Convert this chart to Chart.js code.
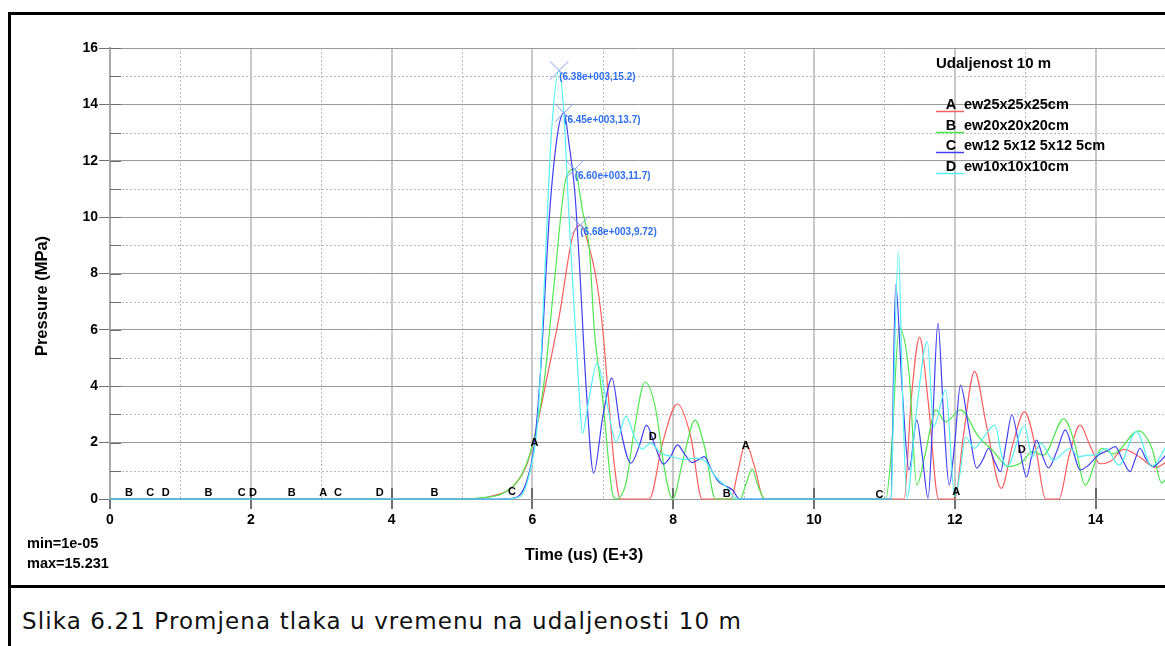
<!DOCTYPE html>
<html>
<head>
    <title>Promjena tlaka u vremenu - 10 m</title>
    <script src="https://cdn.jsdelivr.net/npm/chart.js"></script>
    <style>
        body { margin: 0; overflow: hidden; background: #fff; width: 1165px; height: 646px; }
        #chart { position: absolute; left: 0; top: 0; }
        .rule { position: absolute; background: #000; }
        #caption { position: absolute; left: 22px; top: 608px; font-family: "DejaVu Sans", sans-serif; font-size: 23px; letter-spacing: 1.1px; color: #111; white-space: nowrap; }
    </style>
</head>
<body>
    <canvas id="chart" width="1180" height="587"></canvas>
    <div class="rule" style="left:8px; top:12px; width:1200px; height:3px;"></div>
    <div class="rule" style="left:8px; top:12px; width:3px; height:640px;"></div>
    <div class="rule" style="left:8px; top:585px; width:1200px; height:3px;"></div>
    <div id="caption">Slika 6.21 Promjena tlaka u vremenu na udaljenosti 10 m</div>
    <script>
        // curve names and colours
        const seriesLetters = ['A', 'B', 'C', 'D'];
        const seriesNames = ['ew25x25x25cm', 'ew20x20x20cm', 'ew12 5x12 5x12 5cm', 'ew10x10x10cm'];
        const seriesColors = ['#ff5c5c', '#4fe64f', '#4040f2', '#55f2f2'];

        // A - ew25x25x25cm (time in us E+3, pressure MPa)
        const timeA = [0, 5.0, 5.39, 5.72, 5.91, 6.03, 6.19, 6.38, 6.57, 6.68, 6.81, 6.92, 7.0, 7.08, 7.16, 7.25, 7.66, 7.85, 8.06, 8.25, 8.41,
            8.82, 8.92, 9.03, 9.15, 9.29, 11.28, 11.38, 11.5, 11.62, 11.77, 12.0, 12.12, 12.28, 12.45, 12.66, 12.82, 12.99, 13.15,
            13.29, 13.48, 13.62, 13.78, 13.92, 14.06, 14.22, 14.4, 14.62, 14.85, 15.0];
        const pressA = [0, 0, 0.08, 0.44, 1.15, 2.2, 4.1, 6.47, 9.3, 9.72, 8.9, 7.6, 6.0, 3.6, 1.3, 0, 0, 2.0, 3.37, 2.2, 0,
            0, 1.0, 1.98, 1.2, 0, 0, 3.5, 5.74, 3.5, 0, 0, 2.2, 4.53, 2.6, 0.38, 1.9, 3.1, 1.8,
            0, 0, 1.5, 2.62, 1.9, 1.25, 1.35, 1.76, 1.5, 1.12, 1.3];

        // B - ew20x20x20cm
        const timeB = [0, 5.0, 5.3, 5.58, 5.86, 6.03, 6.17, 6.31, 6.48, 6.6, 6.71, 6.81, 6.88, 7.0, 7.13, 7.19, 7.33, 7.45, 7.6, 7.75,
            7.88, 7.99, 8.15, 8.31, 8.45, 8.6, 8.95, 9.03, 9.12, 9.2, 9.3, 11.02, 11.1, 11.21, 11.35, 11.46, 11.58, 11.73, 11.87,
            12.08, 12.34, 12.53, 12.77, 12.95, 13.1, 13.26, 13.55, 13.7, 13.85, 14.09, 14.25, 14.61, 14.8, 14.94, 15.0];
        const pressB = [0, 0, 0.05, 0.2, 0.92, 2.2, 4.22, 7.66, 11.4, 11.7, 10.25, 8.83, 6.0, 3.5, 0.3, 0, 0.57, 2.5, 4.15, 3.2,
            1.0, 0, 1.5, 2.8, 1.8, 0, 0, 0.5, 1.06, 0.5, 0, 0, 1.74, 6.07, 4.47, 0.5, 1.6, 3.16, 2.74,
            3.16, 2.2, 1.74, 1.15, 1.3, 1.68, 1.56, 2.84, 2.0, 0.5, 1.8, 1.6, 2.42, 1.8, 0.57, 0.7];

        // C - ew12 5x12 5x12 5cm
        const timeC = [0, 5.0, 5.5, 5.72, 5.91, 6.03, 6.12, 6.24, 6.36, 6.45, 6.52, 6.6, 6.67, 6.76, 6.87, 7.0, 7.13, 7.25, 7.4, 7.52,
            7.62, 7.74, 7.86, 7.96, 8.06, 8.16, 8.27, 8.36, 8.44, 8.55, 8.65, 8.75, 8.85, 8.94, 11.09, 11.16, 11.25, 11.35, 11.46,
            11.54, 11.62, 11.69, 11.76, 11.84, 11.92, 12.0, 12.08, 12.2, 12.31, 12.4, 12.48, 12.57, 12.65, 12.73, 12.81, 12.92,
            13.02, 13.09, 13.16, 13.25, 13.33, 13.45, 13.57, 13.68, 13.78, 13.9, 14.04, 14.16, 14.28, 14.38, 14.49, 14.56, 14.63,
            14.72, 14.82, 14.9, 15.0];
        const pressC = [0, 0, 0, 0.02, 0.57, 1.98, 4.69, 10.0, 13.0, 13.7, 12.6, 10.96, 8.24, 4.1, 0.92, 2.92, 4.29, 2.5, 1.27, 1.9,
            2.62, 1.9, 1.24, 1.5, 1.92, 1.6, 1.29, 1.4, 1.5, 1.0, 0.6, 0.46, 0.3, 0, 0, 7.6, 4.0, 1.03, 2.8,
            1.5, 0.03, 3.0, 6.24, 3.0, 0.5, 2.0, 4.04, 2.5, 1.1, 1.4, 1.8, 1.3, 0.97, 2.0, 2.98, 1.8,
            0.79, 1.5, 2.09, 1.5, 1.1, 1.7, 2.45, 1.7, 1.03, 1.2, 1.56, 1.7, 1.86, 1.4, 0.97, 1.4, 1.8,
            1.4, 1.15, 1.3, 1.56];

        // D - ew10x10x10cm
        const timeD = [0, 5.0, 5.6, 5.82, 5.98, 6.08, 6.17, 6.27, 6.38, 6.45, 6.52, 6.6, 6.67, 6.71, 6.8, 6.92, 7.05, 7.19, 7.33, 7.45,
            7.56, 7.68, 7.82, 7.99, 8.15, 8.32, 8.46, 8.6, 8.75, 8.9, 11.1, 11.13, 11.2, 11.26, 11.32, 11.45, 11.61, 11.7, 11.87,
            12.0, 12.08, 12.15, 12.28, 12.38, 12.57, 12.67, 12.74, 12.99, 13.1, 13.22, 13.4, 13.64, 13.76, 13.9, 14.0, 14.15,
            14.33, 14.58, 14.8, 15.0];
        const pressD = [0, 0, 0, 0.08, 1.15, 2.92, 7.66, 12.98, 15.2, 13.56, 10.0, 6.47, 3.51, 2.33, 3.5, 4.82, 3.5, 2.04, 2.94, 2.2,
            1.77, 1.98, 1.63, 1.5, 1.4, 1.45, 1.33, 0.8, 0.44, 0, 0, 3.63, 8.77, 3.5, 0.03, 3.0, 5.58, 2.57, 3.87,
            0.08, 1.0, 2.2, 1.8, 2.09, 2.62, 1.5, 1.15, 2.59, 1.5, 1.98, 1.38, 1.8, 1.5, 1.56, 1.56, 1.8,
            1.2, 2.39, 1.15, 1.86];

        // peak markers
        const peakTime = [6.38, 6.45, 6.60, 6.68];
        const peakPress = [15.2, 13.7, 11.7, 9.72];

        // curve id letters sitting on the curves
        const markText = ['B', 'C', 'D', 'B', 'C', 'D', 'B', 'A', 'C', 'D', 'B', 'C', 'A', 'D', 'B', 'A', 'C', 'A', 'D'];
        const markTime = [0.27, 0.57, 0.79, 1.40, 1.87, 2.03, 2.58, 3.03, 3.24, 3.83, 4.61, 5.71, 6.03, 7.71, 8.76, 9.03, 10.93, 12.02, 12.95];
        const markPress = [0.2, 0.2, 0.2, 0.2, 0.2, 0.2, 0.2, 0.2, 0.2, 0.2, 0.2, 0.24, 2.0, 2.19, 0.17, 1.88, 0.14, 0.26, 1.74];

        const minMaxText = ['min=1e-05', 'max=15.231'];

        const timeArrs = [timeA, timeB, timeC, timeD];
        const pressArrs = [pressA, pressB, pressC, pressD];

        const datasets = seriesLetters.map((s, i) => ({
            label: s + ' ' + seriesNames[i],
            data: timeArrs[i].map((t, k) => ({ x: t, y: pressArrs[i][k] })),
            showLine: true,
            borderColor: seriesColors[i],
            borderWidth: 1.2,
            pointRadius: 0,
            cubicInterpolationMode: 'monotone',
            clip: 4,
            order: 4 - i
        }));
        datasets.push({
            label: 'peaks',
            data: peakTime.map((t, k) => ({ x: t, y: peakPress[k] })),
            showLine: false,
            pointStyle: 'crossRot',
            pointRadius: 13,
            borderColor: '#7f9ff0',
            borderWidth: 1,
            order: 0
        });

        const FONT = '"Liberation Sans", Arial, sans-serif';

        const overlay = {
            id: 'overlay',
            beforeDatasetsDraw(chart) {
                const { ctx, chartArea: a, scales: { x, y } } = chart;
                ctx.save();
                ctx.strokeStyle = '#b8b8b8';
                ctx.lineWidth = 1;
                ctx.setLineDash([2, 2]);
                ctx.beginPath();
                for (let v = 1; v < 16; v += 2) {
                    const py = Math.round(y.getPixelForValue(v)) + 0.5;
                    ctx.moveTo(a.left, py); ctx.lineTo(a.right, py);
                }
                for (let v = 1; v <= 15; v += 2) {
                    const px = Math.round(x.getPixelForValue(v)) + 0.5;
                    ctx.moveTo(px, a.top); ctx.lineTo(px, a.bottom);
                }
                ctx.stroke();
                ctx.setLineDash([]);
                // small inner ticks
                ctx.strokeStyle = '#6a6a6a';
                ctx.beginPath();
                for (let v = 0; v <= 16; v++) {
                    const py = Math.round(y.getPixelForValue(v)) + 0.5;
                    ctx.moveTo(a.left, py); ctx.lineTo(a.left + 11, py);
                }
                ctx.stroke();
                ctx.lineWidth = 2;
                ctx.beginPath();
                for (let v = 2; v <= 14; v += 2) {
                    const px = Math.round(x.getPixelForValue(v));
                    ctx.moveTo(px, a.bottom); ctx.lineTo(px, a.bottom - 11);
                }
                ctx.stroke();
                ctx.restore();
            },
            afterDraw(chart) {
                const { ctx, scales: { x, y } } = chart;
                ctx.save();
                // letters on curves
                ctx.fillStyle = '#000';
                ctx.font = 'bold 11px ' + FONT;
                ctx.textAlign = 'center';
                ctx.textBaseline = 'middle';
                markText.forEach((t, i) => {
                    ctx.fillText(t, x.getPixelForValue(markTime[i]), y.getPixelForValue(markPress[i]));
                });
                // peak labels
                ctx.fillStyle = '#2f6ff0';
                ctx.font = 'bold 10px ' + FONT;
                ctx.textAlign = 'left';
                peakTime.forEach((t, i) => {
                    const txt = '(' + t.toFixed(2) + 'e+003,' + peakPress[i] + ')';
                    ctx.fillText(txt, x.getPixelForValue(t), y.getPixelForValue(peakPress[i]) + 7);
                });
                // legend
                ctx.fillStyle = '#000';
                ctx.font = 'bold 15px ' + FONT;
                ctx.fillText('Udaljenost 10 m', 936, 64);
                ctx.font = 'bold 14.5px ' + FONT;
                seriesLetters.forEach((s, i) => {
                    const ry = 105 + i * 20.7;
                    const ly = Math.round(ry + 6) + 0.5;
                    ctx.strokeStyle = seriesColors[i];
                    ctx.lineWidth = 1.5;
                    ctx.beginPath();
                    ctx.moveTo(936, ly); ctx.lineTo(964, ly);
                    ctx.stroke();
                    ctx.textAlign = 'center';
                    ctx.fillText(s, 951, ry);
                    ctx.textAlign = 'left';
                    ctx.fillText(seriesNames[i], 964, ry);
                });
                // axis titles
                ctx.font = 'bold 16.5px ' + FONT;
                ctx.textAlign = 'center';
                ctx.fillText('Time (us) (E+3)', 584, 555);
                ctx.save();
                ctx.translate(42, 296);
                ctx.rotate(-Math.PI / 2);
                ctx.fillText('Pressure (MPa)', 0, 0);
                ctx.restore();
                // min / max
                ctx.textAlign = 'left';
                ctx.font = 'bold 14.5px ' + FONT;
                ctx.fillText(minMaxText[0], 27, 544);
                ctx.fillText(minMaxText[1], 27, 564);
                ctx.restore();
            }
        };

        const ctx = document.getElementById('chart').getContext('2d');
        new Chart(ctx, {
            type: 'scatter',
            data: { datasets: datasets },
            options: {
                responsive: false,
                animation: false,
                layout: { padding: { left: 0, top: 48, right: 12.5, bottom: 0 } },
                plugins: { legend: { display: false }, tooltip: { enabled: false } },
                scales: {
                    x: {
                        type: 'linear',
                        position: 'bottom',
                        min: 0,
                        max: 15,
                        afterFit: s => { s.height = 88; },
                        ticks: {
                            stepSize: 1,
                            autoSkip: false,
                            maxRotation: 0,
                            padding: 3,
                            color: '#000',
                            font: { family: FONT, size: 14, weight: 'bold' },
                            callback: v => (v % 2 === 0 ? v : '')
                        },
                        grid: {
                            color: c => (c.tick && c.tick.value % 2 === 0 ? '#c8c8c8' : 'transparent'),
                            lineWidth: 2,
                            tickLength: 10,
                            tickColor: c => (c.tick && c.tick.value % 2 === 0 ? '#707070' : 'transparent'),
                            tickWidth: 2
                        },
                        border: { display: true, color: '#9a9a9a', width: 1 }
                    },
                    y: {
                        min: 0,
                        max: 16,
                        afterFit: s => { s.width = 110; },
                        ticks: {
                            stepSize: 1,
                            autoSkip: false,
                            padding: 1,
                            color: '#000',
                            font: { family: FONT, size: 14, weight: 'bold' },
                            callback: v => (v % 2 === 0 ? v : '')
                        },
                        grid: {
                            color: c => (c.tick && c.tick.value % 2 === 0 ? '#9a9a9a' : 'transparent'),
                            lineWidth: 1,
                            tickLength: 11,
                            tickColor: c => (c.tick && c.tick.value % 2 === 0 ? '#707070' : 'transparent')
                        },
                        border: { display: true, color: '#a8a8a8', width: 2 }
                    }
                }
            },
            plugins: [overlay]
        });
    </script>
</body>
</html>
